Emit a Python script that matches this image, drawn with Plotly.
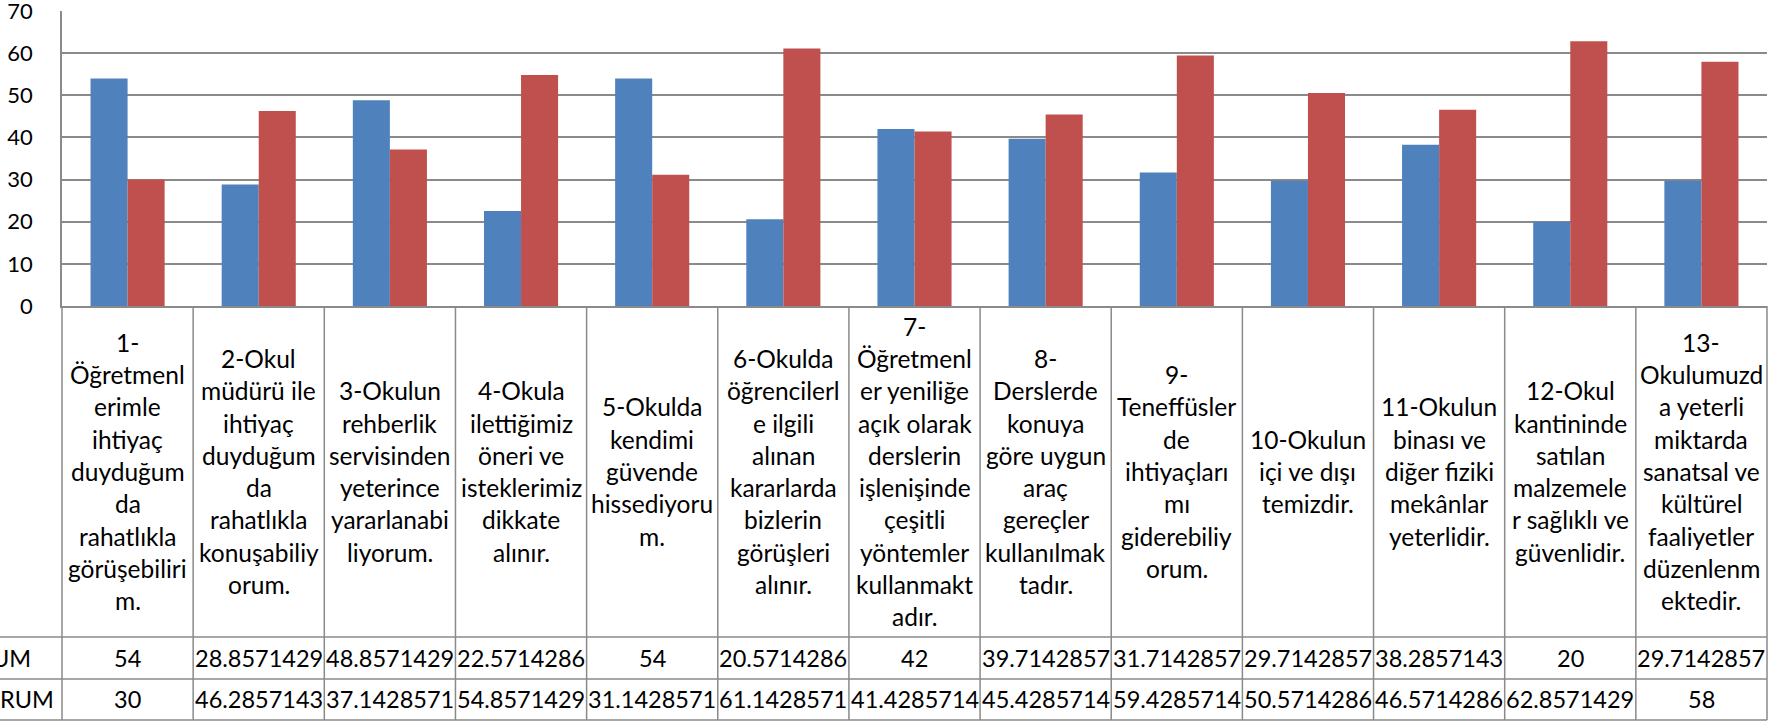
import plotly.graph_objects as go

categories = [
    "1-\nÖğretmenl\nerimle\nihtiyaç\nduyduğum\nda\nrahatlıkla\ngörüşebiliri\nm.",
    "2-Okul\nmüdürü ile\nihtiyaç\nduyduğum\nda\nrahatlıkla\nkonuşabiliy\norum.",
    "3-Okulun\nrehberlik\nservisinden\nyeterince\nyararlanabi\nliyorum.",
    "4-Okula\nilettiğimiz\nöneri ve\nisteklerimiz\ndikkate\nalınır.",
    "5-Okulda\nkendimi\ngüvende\nhissediyoru\nm.",
    "6-Okulda\nöğrencilerl\ne ilgili\nalınan\nkararlarda\nbizlerin\ngörüşleri\nalınır.",
    "7-\nÖğretmenl\ner yeniliğe\naçık olarak\nderslerin\nişlenişinde\nçeşitli\nyöntemler\nkullanmakt\nadır.",
    "8-\nDerslerde\nkonuya\ngöre uygun\naraç\ngereçler\nkullanılmak\ntadır.",
    "9-\nTeneffüsler\nde\nihtiyaçları\nmı\ngiderebiliy\norum.",
    "10-Okulun\niçi ve dışı\ntemizdir.",
    "11-Okulun\nbinası ve\ndiğer fiziki\nmekânlar\nyeterlidir.",
    "12-Okul\nkantininde\nsatılan\nmalzemele\nr sağlıklı ve\ngüvenlidir.",
    "13-\nOkulumuzd\na yeterli\nmiktarda\nsanatsal ve\nkültürel\nfaaliyetler\ndüzenlenm\nektedir.",
]

series1_name = "UM"
series2_name = "RUM"
series1 = [54, 28.8571429, 48.8571429, 22.5714286, 54, 20.5714286, 42,
           39.7142857, 31.7142857, 29.7142857, 38.2857143, 20, 29.7142857]
series2 = [30, 46.2857143, 37.1428571, 54.8571429, 31.1428571, 61.1428571, 41.4285714,
           45.4285714, 59.4285714, 50.5714286, 46.5714286, 62.8571429, 58]

y_ticks = [0, 10, 20, 30, 40, 50, 60, 70]

# ---- layout constants (pixels) ----
W, H = 1790, 723
L, R = 62, 1767
T, B = 11, 306
CAT_BOTTOM = 637
ROW1_BOTTOM = 679
ROW2_BOTTOM = 720
LINE_H = 32.3
FONT = "Lato"
GRID = "#8a8a8a"
BLUE = "#4F81BD"
RED = "#C0504D"

pw = R - L
ph = B - T


def px_x(x):
    return (x - L) / pw


def px_y(y):
    return (B - y) / ph


def fmt(v):
    if float(v).is_integer():
        return str(int(v))
    return f"{v:.7f}"


n = len(categories)
keys = list(range(n))

fig = go.Figure()
fig.add_bar(x=keys, y=series1, name=series1_name, marker_color=BLUE,
            marker_line_width=0)
fig.add_bar(x=keys, y=series2, name=series2_name, marker_color=RED,
            marker_line_width=0)

annotations = []
shapes = []

# category labels
cat_center = (B + CAT_BOTTOM) / 2
for i, label in enumerate(categories):
    lines = label.split("\n")
    m = len(lines)
    for j, line in enumerate(lines):
        y = cat_center + (j - (m - 1) / 2) * LINE_H
        annotations.append(dict(
            x=(i + 0.5) / n, xref="paper", y=px_y(y), yref="paper",
            text=line, showarrow=False, xanchor="center", yanchor="middle",
            font=dict(family=FONT, size=24.5, color="#000000")))

# value rows
row_centers = [(CAT_BOTTOM + ROW1_BOTTOM) / 2, (ROW1_BOTTOM + ROW2_BOTTOM) / 2]
for vals, yc in zip([series1, series2], row_centers):
    for i, v in enumerate(vals):
        annotations.append(dict(
            x=(i + 0.5) / n, xref="paper", y=px_y(yc), yref="paper",
            text=fmt(v), showarrow=False, xanchor="center", yanchor="middle",
            font=dict(family=FONT, size=23.5, color="#000000")))

# row headers (cut off at the left edge in the reference)
for name, yc, xr in zip([series1_name, series2_name], row_centers, [33, 56]):
    annotations.append(dict(
        x=px_x(xr), xref="paper", y=px_y(yc), yref="paper",
        text=name, showarrow=False, xanchor="right", yanchor="middle",
        font=dict(family=FONT, size=23.5, color="#000000")))

# table grid: vertical lines
for k in range(n + 1):
    shapes.append(dict(type="line", xref="paper", yref="paper",
                       x0=k / n, x1=k / n, y0=px_y(B), y1=px_y(ROW2_BOTTOM),
                       line=dict(color=GRID, width=1.5)))
# horizontal lines
for yy in [CAT_BOTTOM, ROW1_BOTTOM, ROW2_BOTTOM]:
    shapes.append(dict(type="line", xref="paper", yref="paper",
                       x0=px_x(0), x1=1, y0=px_y(yy), y1=px_y(yy),
                       line=dict(color=GRID, width=1.5)))

fig.update_layout(
    width=W, height=H,
    margin=dict(l=L, r=W - R, t=T, b=H - B, pad=0, autoexpand=False),
    paper_bgcolor="white", plot_bgcolor="white",
    barmode="group", bargap=0.435, bargroupgap=0,
    showlegend=False,
    annotations=annotations,
    shapes=shapes,
    font=dict(family=FONT, color="#000000"),
)
fig.update_xaxes(range=[-0.5, n - 0.5], showticklabels=False, showgrid=False,
                 zeroline=False, showline=True, linecolor=GRID, linewidth=1.5,
                 ticks="", fixedrange=True, automargin=False)
fig.update_yaxes(range=[0, 70.02], tickvals=y_ticks, showgrid=True, gridcolor=GRID,
                 gridwidth=1.5, zeroline=False, showline=True, linecolor=GRID,
                 linewidth=1.5, ticks="", ticklabelstandoff=23,
                 ticklabeloverflow="allow", automargin=False,
                 tickfont=dict(family=FONT, size=22, color="#000000"))

fig.write_html("out.html",
               config={"displayModeBar": False},
               post_script="document.body.style.margin='0';document.body.style.overflow='hidden';")
